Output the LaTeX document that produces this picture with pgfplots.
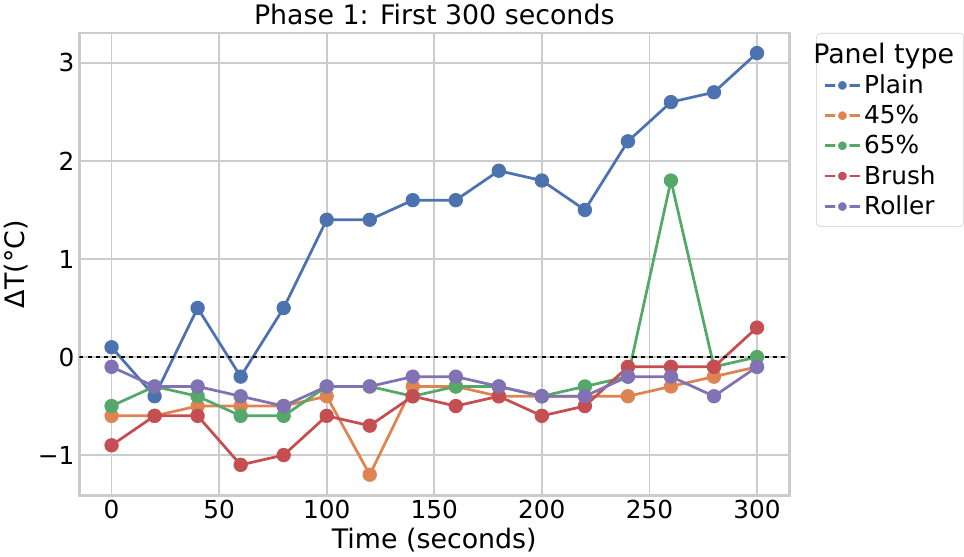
\documentclass[border=0pt]{standalone}
\usepackage{pgfplots}
\pgfplotsset{compat=1.18}
\usepackage{fontspec}
\setmainfont{DejaVu Sans}
\definecolor{c1}{HTML}{4C72B0}
\definecolor{c2}{HTML}{DD8452}
\definecolor{c3}{HTML}{55A868}
\definecolor{c4}{HTML}{C44E52}
\definecolor{c5}{HTML}{8172B3}
\definecolor{gr}{HTML}{CCCCCC}
\pgfplotstableread{
x plain p45 p65 brush roller
0 0.1 -0.6 -0.5 -0.9 -0.1
20 -0.4 -0.6 -0.3 -0.6 -0.3
40 0.5 -0.5 -0.4 -0.6 -0.3
60 -0.2 -0.5 -0.6 -1.1 -0.4
80 0.5 -0.5 -0.6 -1.0 -0.5
100 1.4 -0.4 -0.3 -0.6 -0.3
120 1.4 -1.2 -0.3 -0.7 -0.3
140 1.6 -0.3 -0.4 -0.4 -0.2
160 1.6 -0.3 -0.3 -0.5 -0.2
180 1.9 -0.4 -0.3 -0.4 -0.3
200 1.8 -0.4 -0.4 -0.6 -0.4
220 1.5 -0.4 -0.3 -0.5 -0.4
240 2.2 -0.4 -0.2 -0.1 -0.2
260 2.6 -0.3 1.8 -0.1 -0.2
280 2.7 -0.2 -0.1 -0.1 -0.4
300 3.1 -0.1 0.0 0.3 -0.1
}\data
\begin{document}
\begin{tikzpicture}
\begin{axis}[
  width=516pt, height=336pt, scale only axis,
  xmin=-15, xmax=315, ymin=-1.41, ymax=3.305,
  xtick={0,50,...,300}, ytick={-1,0,1,2,3},
  xticklabels={0,50,100,150,200,250,300},
  yticklabels={−1,0,1,2,3},
  grid=major, grid style={gr, line width=1.2pt},
  axis line style={gr, line width=1.8pt},
  tick style={draw=none},
  ticklabel style={font=\fontsize{18}{21}\selectfont},
  xlabel={Time (seconds)}, ylabel={ΔT(°C)},
  label style={font=\fontsize{19.5}{23}\selectfont},
  title={Phase 1: First 300 seconds},
  title style={font=\fontsize{19.5}{23}\selectfont, yshift=-4pt},
  every axis plot/.append style={solid, line width=2pt, mark=*, mark size=4.2pt,
     mark options={draw=white, line width=0.8pt}},
  legend style={at={(1.038,1)}, anchor=north west, draw=gr, rounded corners=3pt,
     font=\fontsize{18}{21}\selectfont, row sep=3pt, inner sep=5pt},
  legend cell align=left,
  legend image code/.code={\draw[#1, solid, line width=2pt] (0cm,0cm) -- (0.9cm,0cm);
     \fill[#1, draw=white, solid] (0.45cm,0cm) circle (4.2pt);},
]
\addlegendimage{empty legend}
\addlegendentry[font=\fontsize{19.5}{23}\selectfont]{\hspace{-1.3cm}Panel type}
\addplot[c1, mark options={fill=c1}] table[x=x,y=plain] {\data};
\addlegendentry{Plain}
\addplot[c2, mark options={fill=c2}] table[x=x,y=p45] {\data};
\addlegendentry{45\%}
\addplot[c3, mark options={fill=c3}] table[x=x,y=p65] {\data};
\addlegendentry{65\%}
\addplot[c4, mark options={fill=c4}] table[x=x,y=brush] {\data};
\addlegendentry{Brush}
\addplot[c5, mark options={fill=c5}] table[x=x,y=roller] {\data};
\addlegendentry{Roller}
\draw[black, dashed, line width=1pt] (axis cs:-15,0) -- (axis cs:315,0);
\end{axis}
\end{tikzpicture}
\end{document}
